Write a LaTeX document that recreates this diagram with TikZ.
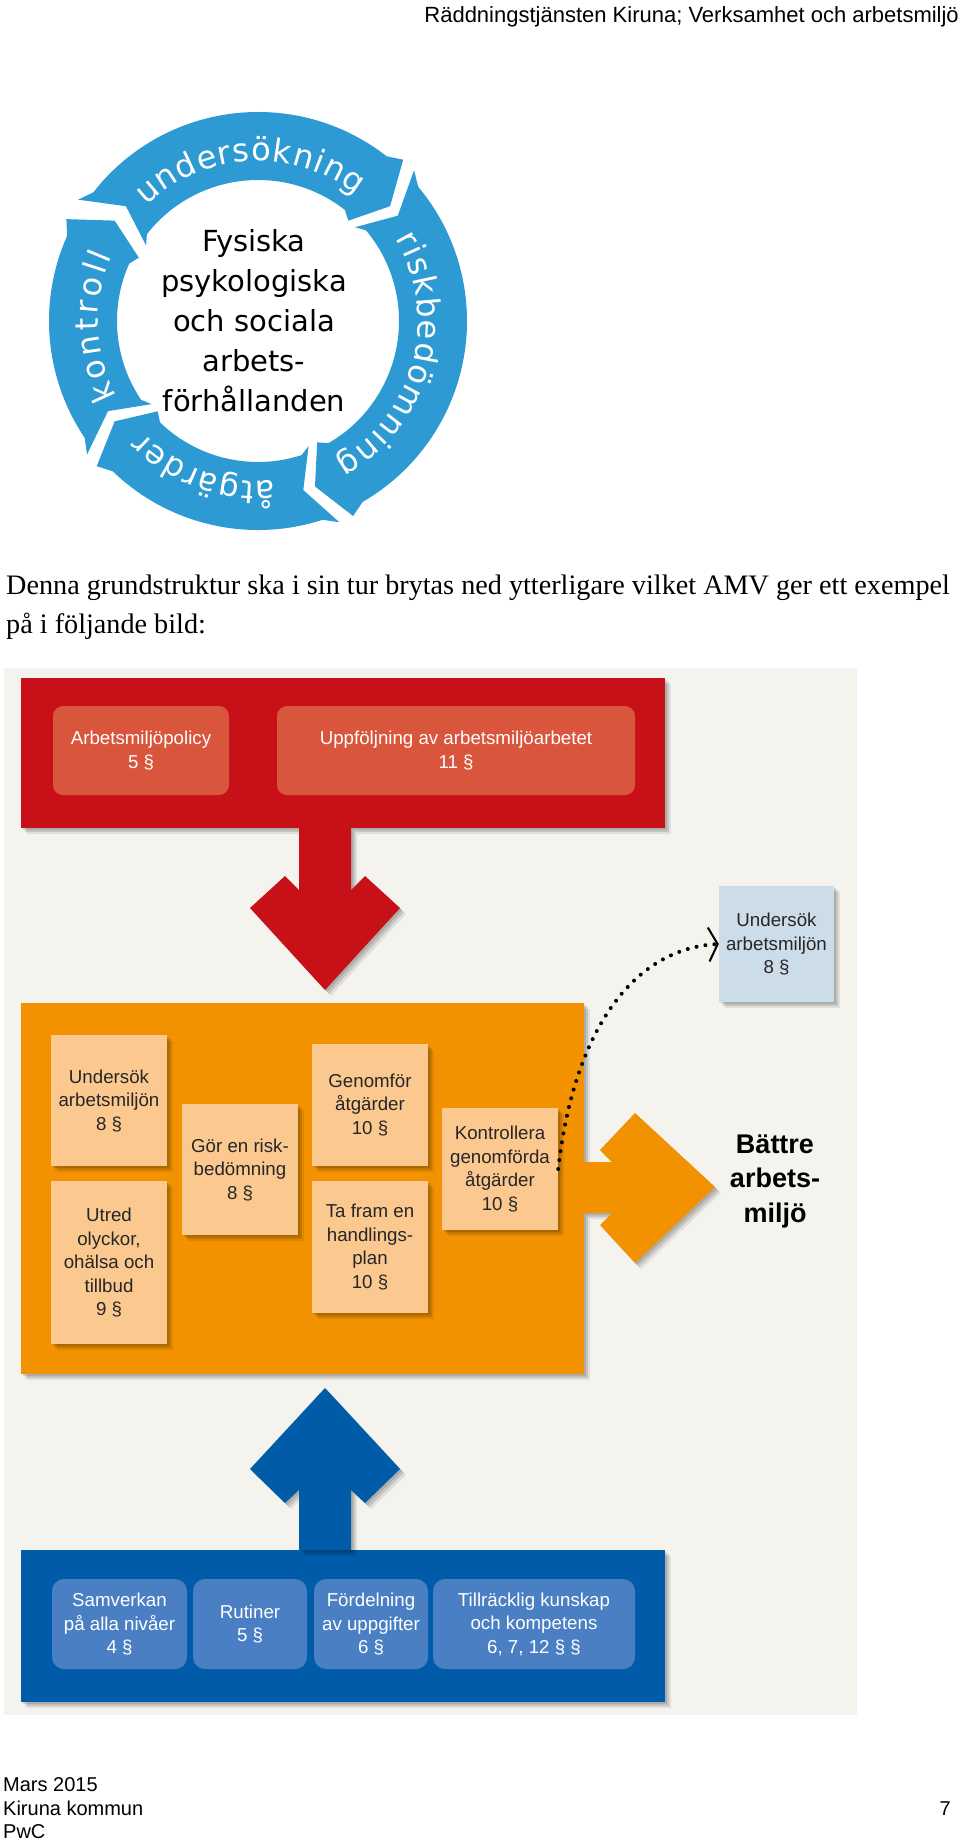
\documentclass[tikz,border=0pt]{standalone}
\usepackage{fontspec}
\setmainfont{Liberation Serif}
\setsansfont{Liberation Sans}
\newfontfamily\ringfont{DejaVu Sans}
\usetikzlibrary{arrows.meta,positioning,calc,shadows,decorations.text}
\definecolor{panelbg}{RGB}{244,243,238}
\definecolor{amvred}{RGB}{200,16,24}
\definecolor{amvredlight}{RGB}{217,86,60}
\definecolor{amvorange}{RGB}{242,146,0}
\definecolor{amvpeach}{RGB}{251,201,143}
\definecolor{amvblue}{RGB}{0,92,169}
\definecolor{amvbluelight}{RGB}{74,128,195}
\definecolor{amvsky}{RGB}{205,220,233}
\definecolor{ringblue}{RGB}{45,154,212}
\tikzset{
  shd/.style={drop shadow={shadow xshift=2pt, shadow yshift=-2pt, opacity=0.12, fill=black},
              drop shadow={shadow xshift=4pt, shadow yshift=-4pt, opacity=0.12, fill=black},
              drop shadow={shadow xshift=6pt, shadow yshift=-6pt, opacity=0.08, fill=black}},
  panel/.style={rectangle, inner sep=0pt, shd},
  txt/.style={font=\sffamily\fontsize{18.7}{23.5}\selectfont, align=center},
  redbox/.style={rectangle, rounded corners=10pt, fill=amvredlight, text=white, txt, minimum height=89pt, inner sep=2pt},
  bluebox/.style={rectangle, rounded corners=12pt, fill=amvbluelight, text=white, txt, minimum height=90pt, inner sep=2pt},
  obox/.style={rectangle, fill=amvpeach, text=black!85, txt, minimum width=116pt, inner sep=1pt, shd},
  foot/.style={font=\sffamily\fontsize{20}{23.5}\selectfont, anchor=base west, inner sep=0pt},
  ringtxt/.style={decorate, decoration={text along path, text align=fit to path, text color=white, text={|\ringfont\fontsize{32}{36}\selectfont|#1}}}
}

\begin{document}
\begin{tikzpicture}[x=1pt, y=-1pt]
    \useasboundingbox (0,0) rectangle (960,1839);

    % Header
    \node[font=\sffamily\fontsize{22}{26}\selectfont, anchor=base east, inner sep=0pt] (header) at (959,22) {Räddningstjänsten Kiruna; Verksamhet och arbetsmiljö};

    % Cycle
    \begin{scope}[shift={(258,321)}, y=1pt]
        \foreach \ta/\ha in {146/48, 44/-64, -68/-138, 218/152}
            \fill[ringblue] (\ta:217) -- (\ta-4:209) arc[start angle=\ta-4, end angle=\ha+4, radius=209]
                -- (\ha:217) -- (\ha-7:175) -- (\ha:135) -- (\ha+4:141)
                arc[start angle=\ha+4, end angle=\ta-4, radius=141]
                -- (\ta:135) -- (\ta-7:175) -- cycle;
        \path[ringtxt=undersökning] (134:160) arc[start angle=134, end angle=52, radius=160];
        \path[ringtxt=riskbedömning] (31:160) arc[start angle=31, end angle=-61, radius=160];
        \path[ringtxt=åtgärder] (-84:160) arc[start angle=-84, end angle=-136, radius=160];
        \path[ringtxt=kontroll] (208:160) arc[start angle=208, end angle=156, radius=160];
    \end{scope}
    \node[font=\ringfont\fontsize{29}{40}\selectfont, align=center, inner sep=0pt] (core) at (254,321) {Fysiska\\psykologiska\\och sociala\\arbets-\\förhållanden};

    % Paragraph
    \node[font=\fontsize{28.2}{38}\selectfont, anchor=base west, inner sep=0pt] (para1) at (6,594) {Denna grundstruktur ska i sin tur brytas ned ytterligare vilket AMV ger ett exempel};
    \node[font=\fontsize{28.2}{38}\selectfont, anchor=base west, inner sep=0pt] (para2) at (6,633) {på i följande bild:};

    % AMV picture
    \fill[panelbg] (4,668) rectangle (857,1715);

    \node[panel, fill=amvred, minimum width=644pt, minimum height=150pt] (top) at (343,753) {};
    \node[redbox, minimum width=176pt] (policy) at (141,750.5) {Arbetsmiljöpolicy\\5 §};
    \node[redbox, minimum width=358pt] (follow) at (456,750.5) {Uppföljning av arbetsmiljöarbetet\\11 §};

    \node[panel, fill=amvorange, minimum width=563pt, minimum height=371pt] (work) at (302.5,1188.5) {};
    \node[obox, minimum height=131pt] (survey) at (109,1100.5) {Undersök\\arbetsmiljön\\8 §};
    \node[obox, minimum height=163pt] (inquire) at (109,1262.5) {Utred\\olyckor,\\ohälsa och\\tillbud\\9 §};
    \node[obox, minimum height=131pt] (risk) at (240,1169.5) {Gör en risk-\\bedömning\\8 §};
    \node[obox, minimum height=122pt] (act) at (370,1105) {Genomför\\åtgärder\\10 §};
    \node[obox, minimum height=132pt] (plan) at (370,1247) {Ta fram en\\handlings-\\plan\\10 §};
    \node[obox, minimum height=122pt] (check) at (500,1169) {Kontrollera\\genomförda\\åtgärder\\10 §};

    \node[panel, fill=amvblue, minimum width=644pt, minimum height=152pt] (base) at (343,1626) {};
    \node[bluebox, minimum width=135pt] (coop) at (119.5,1624) {Samverkan\\på alla nivåer\\4 §};
    \node[bluebox, minimum width=114pt] (routine) at (250,1624) {Rutiner\\5 §};
    \node[bluebox, minimum width=114pt] (tasks) at (371,1624) {Fördelning\\av uppgifter\\6 §};
    \node[bluebox, minimum width=202pt] (skill) at (534,1624) {Tillräcklig kunskap\\och kompetens\\6, 7, 12 § §};

    \node[panel, fill=amvsky, txt, text=black!85, minimum width=115pt, minimum height=116pt] (again) at (776.5,944) {Undersök\\arbetsmiljön\\8 §};
    \node[font=\sffamily\bfseries\fontsize{27}{34.5}\selectfont, align=center, inner sep=0pt] (goal) at (775,1181) {Bättre\\arbets-\\miljö};

    % Big arrows
    \fill[amvred, shd] (299,828) -- (299,890) -- (285,876) -- (250,908) -- (325,990) -- (400,908) -- (365,876) -- (351,890) -- (351,828) -- cycle;
    \fill[amvblue, shd] (299,1550) -- (299,1490) -- (285,1503) -- (250,1469) -- (325,1388) -- (400,1469) -- (365,1503) -- (351,1490) -- (351,1550) -- cycle;
    \fill[amvorange, shd] (584,1162) -- (612,1162) -- (600,1150) -- (635,1113) -- (715,1187) -- (635,1263) -- (600,1225) -- (612,1213) -- (584,1213) -- cycle;

    % Follow-up loop
    \draw[line width=4pt, line cap=round, dash pattern=on 0pt off 9pt, -{Straight Barb[length=9pt, width=34pt, line width=2pt]}]
        (check.east) .. controls +(17,-149) and +(-79,4) .. (again.west);

    % Footer
    \node[foot] (date) at (3,1791) {Mars 2015};
    \node[foot] (client) at (3,1815) {Kiruna kommun};
    \node[foot] (firm) at (3,1838) {PwC};
    \node[foot, anchor=base east] (page) at (951,1815) {7};
\end{tikzpicture}
\end{document}
